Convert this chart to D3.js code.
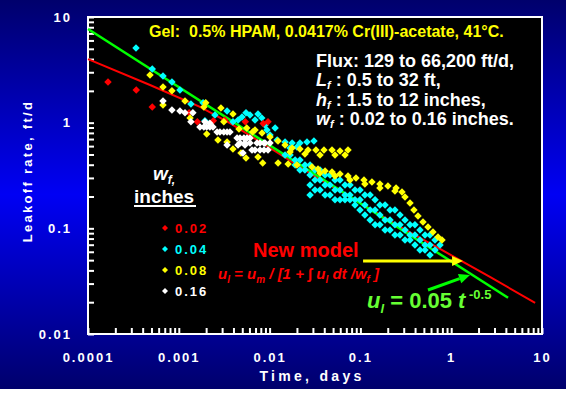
<!DOCTYPE html>
<html>
<head>
<meta charset="utf-8">
<script src="https://cdn.jsdelivr.net/npm/d3@7"></script>
<style>
body { margin: 0; background: #fff; }
text { font-family: "Liberation Sans", Arial, sans-serif; font-weight: bold; }
</style>
</head>
<body>
<div id="chart"></div>
<script>
// tick labels
var xTickLabels = ["0.0001", "0.001", "0.01", "0.1", "1", "10"];
var yTickLabels = ["0.01", "0.1", "1", "10"];

// leakoff data [time (days), leakoff rate (ft/d)] per fracture width
var red002 = [[1.66e-4, 2.43], [3.4e-4, 2.04], [5.1e-4, 1.41], [1.3e-3, 1.24], [1.6e-3, 1.02],
    [2.4e-3, 1.04], [3.2e-3, 1.06], [5.4e-3, 1.02], [8.5e-3, 0.98], [9.6e-3, 1.02]];

var cyan004 = [
    // early times
    [3.38e-4, 5.1], [5.1e-4, 3.22], [6.7e-4, 2.77], [8.4e-4, 2.43], [1.03e-3, 2.04], [1.36e-3, 1.5],
    [1.85e-3, 1.54], [1.94e-3, 1.04], [3.4e-3, 1.29], [3.95e-3, 1.02], [4.97e-3, 1.13], [6.08e-3, 1.18],
    [5.5e-3, 1.24], [7.45e-3, 1.21], [8.2e-3, 1.11], [9.35e-3, 0.853], [2.5e-3, 1.18], [4.5e-3, 1.06],
    [6.91e-3, 1.06], [8.9e-3, 0.951], [0.0115, 0.89],
    // upper streak
    [0.0101, 0.765], [0.0121, 0.686], [0.0148, 0.657], [0.0177, 0.643], [0.0216, 0.643], [0.0258, 0.657],
    [0.0308, 0.671], [0.0168, 0.576], [0.02, 0.589],
    // main cloud, upper edge
    [0.0148, 0.495], [0.0168, 0.495], [0.0191, 0.444], [0.0216, 0.444], [0.0245, 0.398], [0.0279, 0.398],
    [0.0316, 0.357], [0.0359, 0.357], [0.0408, 0.32], [0.0463, 0.32], [0.0525, 0.287], [0.0596, 0.287],
    [0.0677, 0.257], [0.0768, 0.257], [0.0872, 0.231], [0.099, 0.231], [0.112, 0.207], [0.128, 0.207],
    [0.145, 0.186], [0.164, 0.1665], [0.187, 0.1665], [0.212, 0.149], [0.24, 0.149], [0.273, 0.134],
    [0.31, 0.12], [0.352, 0.108], [0.399, 0.108], [0.453, 0.0966], [0.515, 0.0866], [0.584, 0.0866],
    [0.663, 0.0777], [0.753, 0.0697],
    // main cloud, middle
    [0.0191, 0.398], [0.0216, 0.357], [0.0245, 0.357], [0.0279, 0.32], [0.0316, 0.287], [0.0359, 0.287],
    [0.0408, 0.257], [0.0463, 0.257], [0.0525, 0.231], [0.0596, 0.231], [0.0677, 0.207], [0.0768, 0.207],
    [0.0872, 0.186], [0.099, 0.186], [0.112, 0.1665], [0.128, 0.149], [0.145, 0.149], [0.164, 0.134],
    [0.187, 0.12], [0.212, 0.12], [0.24, 0.108], [0.273, 0.108], [0.31, 0.0966], [0.352, 0.0866],
    [0.399, 0.0866], [0.453, 0.0777], [0.515, 0.0697], [0.584, 0.0697], [0.663, 0.0625],
    // main cloud, lower edge
    [0.0279, 0.257], [0.0316, 0.231], [0.0359, 0.231], [0.0408, 0.207], [0.0463, 0.207], [0.0525, 0.186],
    [0.0596, 0.186], [0.0677, 0.186], [0.0768, 0.186], [0.0872, 0.1665], [0.099, 0.149], [0.112, 0.134],
    [0.128, 0.12], [0.145, 0.108], [0.164, 0.108], [0.187, 0.0966], [0.212, 0.0966], [0.24, 0.0866],
    [0.273, 0.0866], [0.31, 0.0777], [0.352, 0.0777], [0.399, 0.0697], [0.453, 0.0625], [0.515, 0.0625],
    [0.584, 0.056], [0.0279, 0.207]
];

var yellow008 = [
    // early times
    [4.82e-4, 2.83], [6.7e-4, 2.18], [8.4e-4, 2.0], [6.7e-4, 1.47], [1.17e-3, 1.6], [1.89e-3, 1.41],
    [1.98e-3, 1.54], [2.91e-3, 1.38], [3.95e-3, 1.21], [1.33e-3, 1.11], [2.03e-3, 0.782], [2.7e-3, 0.686],
    [3.4e-3, 0.657], [3.95e-3, 0.564], [4.84e-3, 0.517], [5.5e-3, 0.464], [3.13e-3, 1.02], [4.6e-3, 0.872],
    [5.6e-3, 0.891], [7.45e-3, 0.474], [8.4e-3, 0.416], [0.0124, 0.416], [0.016, 0.407], [0.02, 0.398],
    [6.5e-3, 0.817],
    // upper band
    [6.91e-3, 0.853], [8.25e-3, 0.8], [0.0101, 0.73], [0.01238, 0.671], [0.0148, 0.615], [0.0177, 0.576],
    [0.0216, 0.564], [0.0265, 0.552], [0.0324, 0.552], [0.0397, 0.552], [0.0487, 0.552], [0.0596, 0.54],
    [0.073, 0.552], [0.0168, 0.528], [0.0245, 0.506], [0.0359, 0.495], [0.0525, 0.495], [0.0677, 0.495],
    // lower band
    [0.0293, 0.381], [0.0341, 0.365], [0.0408, 0.349], [0.0487, 0.342], [0.0596, 0.327], [0.073, 0.313],
    [0.0894, 0.3], [0.1095, 0.287], [0.134, 0.275], [0.164, 0.263], [0.201, 0.252], [0.247, 0.241],
    [0.287, 0.221], [0.31, 0.198], [0.352, 0.174], [0.389, 0.149], [0.431, 0.131], [0.489, 0.115],
    [0.555, 0.103], [0.63, 0.0925], [0.715, 0.083], [0.792, 0.0777],
    [0.0359, 0.334], [0.0525, 0.313], [0.0768, 0.287], [0.112, 0.263], [0.164, 0.241], [0.24, 0.226]
];

var white016 = [
    [6.7e-4, 1.6], [8.4e-4, 1.32], [1.03e-3, 1.29], [1.17e-3, 1.24], [1.43e-3, 1.24], [1.36e-3, 1.02],
    [1.71e-3, 0.91], [1.89e-3, 0.91], [2.03e-3, 0.91], [2.2e-3, 0.91], [2.38e-3, 0.91],
    [2.64e-3, 0.817], [2.84e-3, 0.817], [3.13e-3, 0.817], [3.4e-3, 0.817], [3.66e-3, 0.817],
    [4.38e-3, 0.717], [4.72e-3, 0.717], [5.22e-3, 0.717], [5.64e-3, 0.717], [6.08e-3, 0.717],
    [4.72e-3, 0.643], [5.36e-3, 0.643], [6.08e-3, 0.643], [7.26e-3, 0.643], [7.84e-3, 0.643],
    [8.68e-3, 0.643], [8.9e-3, 0.643], [0.0101, 0.643],
    [4.49e-3, 0.615], [5.36e-3, 0.615], [6.4e-3, 0.552], [6.91e-3, 0.552], [7.84e-3, 0.552],
    [8.68e-3, 0.552], [9.6e-3, 0.552], [3.4e-3, 0.615], [5.09e-3, 0.517], [1.94e-3, 1.02], [2.2e-3, 0.99]
];

// new model curve and power law line
var modelT = [1e-4, 4.82e-4, 1.71e-3, 3.66e-3, 0.0101, 0.0324, 0.099, 0.273, 0.753, 2.67, 8.4];
var modelU = [4.0, 2.27, 1.41, 0.99, 0.576, 0.306, 0.174, 0.103, 0.0638, 0.0347, 0.0197];
var powerT = [1e-4, 4.23];
var powerU = [7.7, 0.022];

var series = [
    { name: "0.02", color: "#ff0000", data: red002 },
    { name: "0.04", color: "#00ffff", data: cyan004 },
    { name: "0.08", color: "#ffff00", data: yellow008 },
    { name: "0.16", color: "#ffffff", data: white016 }
];

var W = 576, H = 394;
var x = d3.scaleLog().domain([1e-4, 10]).range([88, 542]);
var y = d3.scaleLog().domain([0.01, 10]).range([334, 17]);

var svg = d3.select("#chart").append("svg")
    .attr("width", W)
    .attr("height", H);

// background gradient
var grad = svg.append("defs").append("linearGradient")
    .attr("id", "bg").attr("x1", 0).attr("y1", 0).attr("x2", 0).attr("y2", 1);
grad.append("stop").attr("offset", "0%").attr("stop-color", "#00006c");
grad.append("stop").attr("offset", "50%").attr("stop-color", "#0000f4");
grad.append("stop").attr("offset", "100%").attr("stop-color", "#00006c");

svg.append("rect").attr("width", 566).attr("height", 389).style("fill", "url(#bg)");

svg.append("rect")
    .attr("x", x(1e-4)).attr("y", y(10))
    .attr("width", x(10) - x(1e-4)).attr("height", y(0.01) - y(10))
    .style("fill", "#000");

function decadeIndex(d) {
    var l = Math.log10(d);
    return Math.abs(l - Math.round(l)) < 1e-9 ? Math.round(l) : null;
}

// axes
var xAxis = d3.axisBottom(x)
    .tickValues(x.ticks())
    .tickSizeInner(-6).tickSizeOuter(0).tickPadding(19)
    .tickFormat(function (d) {
        var k = decadeIndex(d);
        return k === null ? "" : xTickLabels[k + 4];
    });
var yAxis = d3.axisLeft(y)
    .tickValues(y.ticks())
    .tickSizeInner(-6).tickSizeOuter(0).tickPadding(16)
    .tickFormat(function (d) {
        var k = decadeIndex(d);
        return k === null ? "" : yTickLabels[k + 2];
    });

var gx = svg.append("g").attr("transform", "translate(0," + y(0.01) + ")").call(xAxis);
var gy = svg.append("g").attr("transform", "translate(" + x(1e-4) + ",0)").call(yAxis);
[gx, gy].forEach(function (g) {
    g.select(".domain").remove();
    g.selectAll("line").style("stroke", "#fff").style("stroke-width", 2);
    g.selectAll("text")
        .style("fill", "#fff")
        .style("font-size", "13px")
        .style("letter-spacing", "2px")
        .style("font-family", "'Liberation Sans', Arial, sans-serif")
        .style("font-weight", "bold");
});

// frame
svg.append("rect")
    .attr("x", x(1e-4)).attr("y", y(10))
    .attr("width", x(10) - x(1e-4)).attr("height", y(0.01) - y(10))
    .style("fill", "none").style("stroke", "#fff").style("stroke-width", 2);

// axis titles
svg.append("text")
    .attr("x", 312).attr("y", 381)
    .attr("text-anchor", "middle")
    .style("fill", "#fff").style("font-size", "14px").style("letter-spacing", "3.3px")
    .text("Time, days");

svg.append("text")
    .attr("transform", "translate(32,171) rotate(-90)")
    .attr("text-anchor", "middle")
    .style("fill", "#fff").style("font-size", "13px").style("letter-spacing", "2.3px")
    .text("Leakoff rate, ft/d");

var diamond = d3.symbol().type(d3.symbolSquare).size(28);

function drawPoints(s) {
    svg.append("g").selectAll("path")
        .data(s.data)
        .enter().append("path")
        .attr("d", diamond)
        .attr("transform", function (d) { return "translate(" + x(d[0]) + "," + y(d[1]) + ") rotate(45)"; })
        .style("fill", s.color);
}

var line = d3.line()
    .x(function (d) { return x(d[0]); })
    .y(function (d) { return y(d[1]); });

// model lines sit under the data clouds
svg.append("path")
    .datum(modelT.map(function (t, i) { return [t, modelU[i]]; }))
    .attr("d", line)
    .style("fill", "none").style("stroke", "#ff0000").style("stroke-width", 2);

svg.append("path")
    .datum(powerT.map(function (t, i) { return [t, powerU[i]]; }))
    .attr("d", line)
    .style("fill", "none").style("stroke", "#00ff00").style("stroke-width", 2.5);

drawPoints(series[1]);
drawPoints(series[0]);
drawPoints(series[2]);
drawPoints(series[3]);

// arrows
function arrow(t0, u0, t1, u1, color) {
    var x0 = x(t0), y0 = y(u0), x1 = x(t1), y1 = y(u1);
    var a = Math.atan2(y1 - y0, x1 - x0);
    var len = 11, half = 5;
    var bx = x1 - len * Math.cos(a), by = y1 - len * Math.sin(a);
    svg.append("line")
        .attr("x1", x0).attr("y1", y0).attr("x2", bx).attr("y2", by)
        .style("stroke", color).style("stroke-width", 3);
    svg.append("path")
        .attr("d", "M" + x1 + "," + y1 +
            "L" + (bx + half * Math.sin(a)) + "," + (by - half * Math.cos(a)) +
            "L" + (bx - half * Math.sin(a)) + "," + (by + half * Math.cos(a)) + "Z")
        .style("fill", color);
}
arrow(0.107, 0.0492, 1.35, 0.0492, "#ffff00");
arrow(0.555, 0.0261, 1.61, 0.0362, "#00ff00");

// title and conditions
svg.append("text")
    .attr("x", 149).attr("y", 37)
    .style("fill", "#ffff00").style("font-size", "16px")
    .text("Gel:\u00a0 0.5% HPAM, 0.0417% Cr(III)-acetate, 41\u00b0C.");

svg.append("text")
    .attr("x", 316).attr("y", 67)
    .style("fill", "#fff").style("font-size", "18px")
    .text("Flux: 129 to 66,200 ft/d,");

var condLines = [
    { v: "L", rest: "0.5 to 32 ft,", y: 86 },
    { v: "h", rest: "1.5 to 12 inches,", y: 106 },
    { v: "w", rest: "0.02 to 0.16 inches.", y: 125 }
];
condLines.forEach(function (c) {
    var t = svg.append("text").attr("x", 316).attr("y", c.y)
        .style("fill", "#fff").style("font-size", "18px");
    t.append("tspan").style("font-style", "italic").text(c.v);
    t.append("tspan").style("font-style", "italic").style("font-size", "11px").attr("dy", 3).text("f");
    t.append("tspan").attr("dy", -3).text(" : " + c.rest);
});

// legend
var lw = svg.append("text").attr("x", 153).attr("y", 180).style("fill", "#fff").style("font-style", "italic");
lw.append("tspan").style("font-size", "19px").text("w");
lw.append("tspan").style("font-size", "12px").attr("dy", 4).text("f,");

svg.append("text").attr("x", 134).attr("y", 203)
    .style("fill", "#fff").style("font-size", "19px")
    .text("inches");
svg.append("line").attr("x1", 134).attr("x2", 196).attr("y1", 206).attr("y2", 206)
    .style("stroke", "#fff").style("stroke-width", 2);

series.forEach(function (s, i) {
    var cy = 228 + i * 21;
    svg.append("path").attr("d", d3.symbol().type(d3.symbolSquare).size(18))
        .attr("transform", "translate(165," + cy + ") rotate(45)")
        .style("fill", s.color);
    svg.append("text").attr("x", 175).attr("y", cy + 5)
        .style("fill", s.color).style("font-size", "13px").style("letter-spacing", "2px")
        .text(s.name);
});

// model annotation
svg.append("text").attr("x", 253).attr("y", 257)
    .style("fill", "#ff0000").style("font-size", "20px")
    .text("New model");

var f1 = svg.append("text").attr("x", 218).attr("y", 279)
    .style("fill", "#ff0000").style("font-size", "15px").style("font-style", "italic");
f1.append("tspan").text("u");
f1.append("tspan").style("font-size", "10px").attr("dy", 4).text("l");
f1.append("tspan").attr("dy", -4).text(" = u");
f1.append("tspan").style("font-size", "10px").attr("dy", 4).text("m");
f1.append("tspan").attr("dy", -4).text(" / [1 + \u222b u");
f1.append("tspan").style("font-size", "10px").attr("dy", 4).text("l");
f1.append("tspan").attr("dy", -4).text(" dt /w");
f1.append("tspan").style("font-size", "10px").attr("dy", 4).text("f");
f1.append("tspan").attr("dy", -4).text(" ]");

var f2 = svg.append("text").attr("x", 367).attr("y", 308)
    .style("fill", "#66ff33").style("font-size", "22px");
f2.append("tspan").style("font-style", "italic").text("u");
f2.append("tspan").style("font-style", "italic").style("font-size", "13px").attr("dy", 5).text("l");
f2.append("tspan").attr("dy", -5).text(" = 0.05 ");
f2.append("tspan").style("font-style", "italic").text("t");
f2.append("tspan").style("font-size", "13px").attr("dy", -9).text(" -0.5");
</script>
</body>
</html>
